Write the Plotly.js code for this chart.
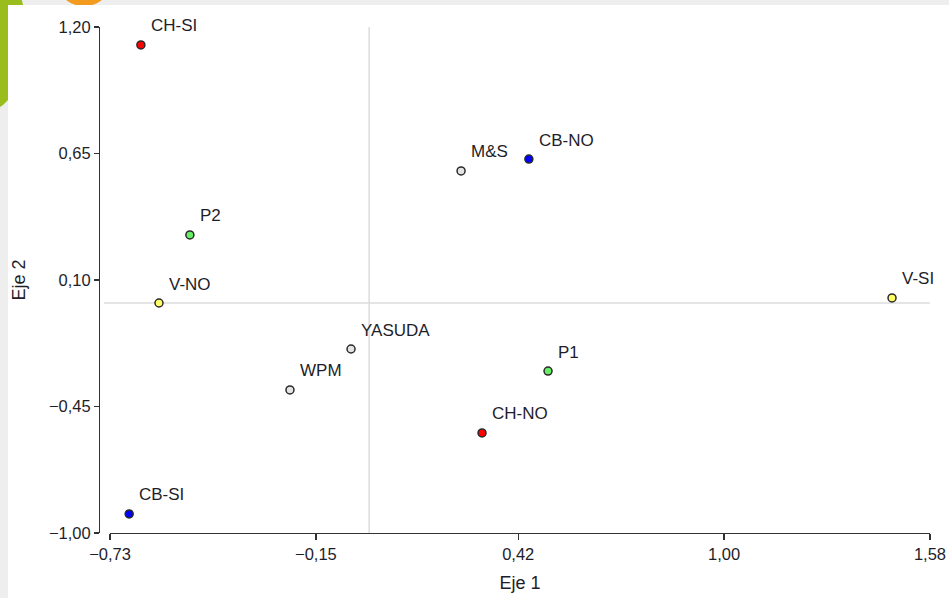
<!DOCTYPE html>
<html>
<head>
<meta charset="utf-8">
<script src="https://cdn.plot.ly/plotly-3.0.1.min.js"></script>
<style>
  html, body { margin: 0; padding: 0; }
  body { width: 949px; height: 598px; background: #eeeeee; position: relative; overflow: hidden; }
  .deco-green { position: absolute; left: -46px; top: -40px; width: 72px; height: 150px;
                background: #98bd1c; border-radius: 50%; }
  .deco-orange { position: absolute; left: 60px; top: -30px; width: 48px; height: 36px;
                 background: #f29b1e; border-radius: 50%; }
  #chart { position: absolute; left: 8px; top: 5px; width: 941px; height: 593px; background: #ffffff; }
</style>
</head>
<body>
<div class="deco-green"></div>
<div class="deco-orange"></div>
<div id="chart"></div>
<script>
// Biplot scores on the first two axes
const labels = ['CH-SI', 'M&S', 'CB-NO', 'P2', 'V-NO', 'V-SI', 'YASUDA', 'WPM', 'P1', 'CH-NO', 'CB-SI'];
const eje1   = [-0.643, 0.259, 0.450, -0.505, -0.592, 1.473, -0.051, -0.223, 0.504, 0.318, -0.676];
const eje2   = [ 1.122, 0.574, 0.626,  0.296,  0.000, 0.022, -0.200, -0.378, -0.296, -0.565, -0.917];
const groupColors = ['#ff0000', '#e4e4e4', '#0000ff', '#66ee66', '#ffff66', '#ffff66',
                     '#e4e4e4', '#e4e4e4', '#66ee66', '#ff0000', '#0000ff'];

const xTicks = [-0.73, -0.15, 0.42, 1.00, 1.58];
const yTicks = [-1.00, -0.45, 0.10, 0.65, 1.20];

const font = 'Liberation Sans, Arial, sans-serif';
const ink = '#1e1e2a';

const trace = {
  type: 'scatter',
  mode: 'markers',
  x: eje1,
  y: eje2,
  text: labels,
  hoverinfo: 'text',
  marker: { size: 8, color: groupColors, line: { color: '#2a2a2a', width: 1.5 } },
  cliponaxis: false
};

// Point labels sit up and to the right of each marker
const pointLabels = labels.map((t, i) => ({
  x: eje1[i], y: eje2[i], xref: 'x', yref: 'y',
  text: t, showarrow: false,
  xanchor: 'left', yanchor: 'middle',
  xshift: 8, yshift: 19,
  font: { family: font, size: 17, color: ink }
}));

const layout = {
  width: 941,
  height: 593,
  margin: { l: 91, r: 19, t: 22, b: 65 },
  paper_bgcolor: '#ffffff',
  plot_bgcolor: '#ffffff',
  showlegend: false,
  separators: ',.',
  font: { family: font, size: 16.5, color: ink },
  xaxis: {
    domain: [11 / 831, 1],
    range: [-0.73, 1.58],
    tickvals: xTicks,
    tickformat: '.2f',
    showgrid: false, zeroline: false,
    showline: true, linecolor: '#333333', linewidth: 1.3,
    ticks: 'outside', ticklen: 6, tickwidth: 1.3, tickcolor: '#333333',
    title: { text: 'Eje 1', font: { family: font, size: 18, color: ink }, standoff: 14 }
  },
  yaxis: {
    range: [-1.0, 1.2],
    anchor: 'free', position: 0,
    tickvals: yTicks,
    tickformat: '.2f',
    showgrid: false, zeroline: false,
    showline: true, linecolor: '#333333', linewidth: 1.3,
    ticks: 'outside', ticklen: 5, tickwidth: 1.3, tickcolor: '#333333',
    title: { text: 'Eje 2', font: { family: font, size: 18, color: ink }, standoff: 17 }
  },
  shapes: [
    { type: 'line', xref: 'x', yref: 'y', x0: 0, x1: 0, y0: -1.0, y1: 1.2,
      line: { color: '#dcdcdc', width: 1.5 }, layer: 'below' },
    { type: 'line', xref: 'paper', yref: 'y', x0: 0.006, x1: 1, y0: 0, y1: 0,
      line: { color: '#dcdcdc', width: 1.5 }, layer: 'below' }
  ],
  annotations: pointLabels
};

Plotly.newPlot('chart', [trace], layout, { displayModeBar: false, staticPlot: true });
</script>
</body>
</html>
